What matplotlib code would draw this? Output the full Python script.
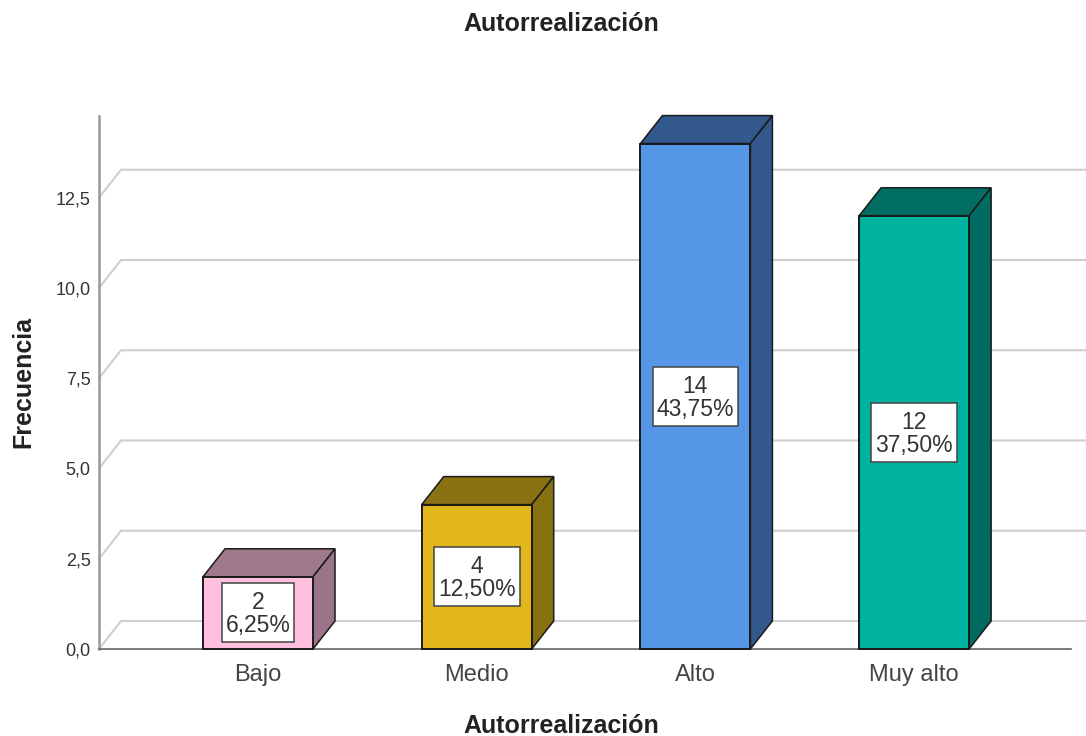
import matplotlib
matplotlib.use("Agg")
import matplotlib.pyplot as plt
from matplotlib.patches import Polygon, Rectangle

categories = ["Bajo", "Medio", "Alto", "Muy alto"]
counts = [2, 4, 14, 12]
percent_labels = ["6,25%", "12,50%", "43,75%", "37,50%"]
front_colors = ["#FFC0E0", "#E1B71B", "#5596E6", "#00B2A0"]
top_colors = ["#A0788C", "#8A7212", "#32588C", "#006E63"]
side_colors = ["#9A7488", "#86700F", "#32588C", "#006B60"]
y_ticks = [0, 2.5, 5, 7.5, 10, 12.5]
y_tick_labels = ["0,0", "2,5", "5,0", "7,5", "10,0", "12,5"]

W, H = 1086, 736
plt.rcParams["font.family"] = ["Liberation Sans", "DejaVu Sans"]
fig = plt.figure(figsize=(W / 100, H / 100), dpi=100)
L, R, T, B = 99, 1071, 116, 649
ax = fig.add_axes([L / W, 1 - B / H, (R - L) / W, (B - T) / H])
ppu = 36.1
ax.set_ylim(0, (B - T) / ppu)
step = 218.7
x0 = (258 - L) / step
ax.set_xlim(-x0, (R - L) / step - x0)
dxu, dyu = 22 / step, 28 / ppu
wu = 110 / step
box_h = 59 / ppu

# back wall grid
grid = "#CFCFCF"
right_u = (1086 - L) / step - x0
for t in y_ticks:
    ax.plot([-x0, -x0 + dxu, right_u], [t, t + dyu, t + dyu], color=grid, lw=1.5,
            clip_on=False, zorder=1, solid_joinstyle="miter")

renderer = fig.canvas.get_renderer()
for i, (c, f, tc, sc) in enumerate(zip(counts, front_colors, top_colors, side_colors)):
    l, r = i - wu / 2, i + wu / 2
    ax.add_patch(Polygon([(l, c), (l + dxu, c + dyu), (r + dxu, c + dyu), (r, c)], closed=True,
                         fc=tc, ec="#1A1A1A", lw=1.1, clip_on=False, zorder=3))
    ax.add_patch(Polygon([(r, 0), (r + dxu, dyu), (r + dxu, c + dyu), (r, c)], closed=True,
                         fc=sc, ec="#1A1A1A", lw=1.1, clip_on=False, zorder=3))
    ax.add_patch(Rectangle((l, 0), wu, c, fc=f, ec="#1A1A1A", lw=1.4, clip_on=False, zorder=4))
    txt = ax.text(i, c / 2 - 1.5 / ppu, f"{c}\n{percent_labels[i]}", ha="center", va="center",
                  fontsize=16.5, color="#333333", linespacing=1.0, zorder=6)
    bw = (txt.get_window_extent(renderer).width + 8) / step
    ax.add_patch(Rectangle((i - bw / 2, c / 2 - box_h / 2), bw, box_h, fc="white", ec="#444444",
                           lw=1.1, zorder=5, clip_on=False))

for s in ["top", "right"]:
    ax.spines[s].set_visible(False)
ax.spines["left"].set_color("#999999")
ax.spines["left"].set_linewidth(1.8)
ax.spines["bottom"].set_color("#666666")
ax.spines["bottom"].set_linewidth(1.2)
ax.set_xticks(range(len(categories)), categories, fontsize=17, color="#444444")
ax.set_yticks(y_ticks, y_tick_labels, fontsize=13, color="#333333")
ax.tick_params(axis="both", length=0)
ax.tick_params(axis="x", pad=10.7)
ax.tick_params(axis="y", pad=6)
ax.set_xlabel("Autorrealización", fontsize=18, fontweight="bold", color="#222222")
ax.xaxis.set_label_coords((561 - L) / (R - L), -(726 - B) / (B - T), transform=ax.transAxes)
ax.xaxis.label.set_va("center")
ax.set_ylabel("Frecuencia", fontsize=18, fontweight="bold", color="#222222")
ax.yaxis.set_label_coords(-(99 - 23) / (R - L), (B - 382) / (B - T), transform=ax.transAxes)
ax.yaxis.label.set_va("center")
fig.text(561 / W, 1 - 24 / H, "Autorrealización", ha="center", va="center", fontsize=18,
         fontweight="bold", color="#222222")
fig.savefig("out.png", dpi=100)
